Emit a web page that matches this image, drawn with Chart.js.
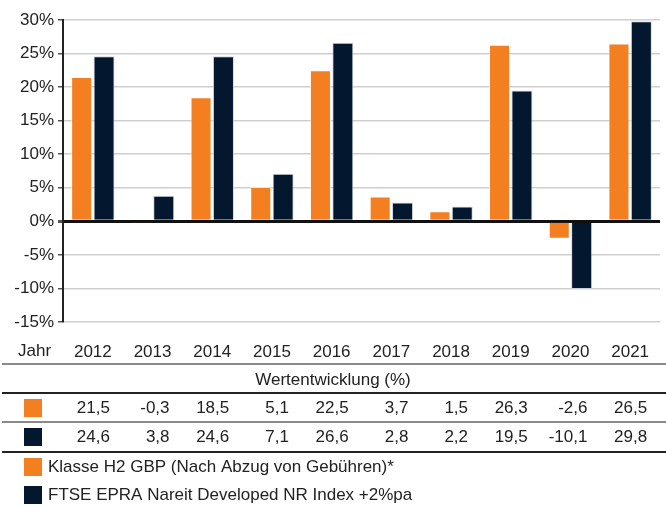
<!DOCTYPE html>
<html>
<head>
<meta charset="utf-8">
<script src="https://cdn.jsdelivr.net/npm/chart.js@4"></script>
<style>
  html, body { margin: 0; padding: 0; background: #fff; }
  #wrap { width: 666px; height: 506px; }
</style>
</head>
<body>
<div id="wrap"><canvas id="perfChart" width="666" height="506"></canvas></div>
<script>
// Wertentwicklung pro Jahr (%)
const years = ["2012", "2013", "2014", "2015", "2016", "2017", "2018", "2019", "2020", "2021"];
const klasseH2 = [21.5, -0.3, 18.5, 5.1, 22.5, 3.7, 1.5, 26.3, -2.6, 26.5];
const ftseIndex = [24.6, 3.8, 24.6, 7.1, 26.6, 2.8, 2.2, 19.5, -10.1, 29.8];
const seriesNames = ["Klasse H2 GBP (Nach Abzug von Gebühren)*", "FTSE EPRA Nareit Developed NR Index +2%pa"];
const yMin = -15, yMax = 30, yStep = 5;

const ORANGE = "#f47f20";
const NAVY = "#03172f";
const TEXT = "#222";
const FONT = "'Liberation Sans', Arial, Helvetica, sans-serif";

const fmt = v => v.toFixed(1).replace(".", ",");

// table under the chart, columns follow the x scale
const tablePlugin = {
  id: "perfTable",
  afterDraw(chart) {
    const ctx = chart.ctx;
    const x = chart.scales.x;
    const W = chart.width;
    ctx.save();
    ctx.font = "17px " + FONT;
    ctx.fillStyle = TEXT;
    ctx.textBaseline = "middle";

    // "Jahr" label next to the years
    ctx.textAlign = "left";
    ctx.fillText("Jahr", 18, 351);

    function hline(y, color, w) {
      ctx.strokeStyle = color;
      ctx.lineWidth = w;
      ctx.beginPath();
      ctx.moveTo(2, y);
      ctx.lineTo(W, y);
      ctx.stroke();
    }
    hline(364, "#8a8a8a", 2);
    ctx.textAlign = "center";
    ctx.fillText("Wertentwicklung (%)", W / 2, 380);
    hline(393, "#222", 2);
    hline(422, "#8a8a8a", 2);
    hline(452, "#222", 2);

    const rows = [
      { y: 408, color: ORANGE, data: klasseH2 },
      { y: 437, color: NAVY, data: ftseIndex },
    ];
    rows.forEach(r => {
      ctx.fillStyle = r.color;
      ctx.fillRect(24, r.y - 9, 18, 18);
      ctx.fillStyle = TEXT;
      ctx.textAlign = "right";
      r.data.forEach((v, i) => {
        ctx.fillText(fmt(v), x.getPixelForValue(i) + 17, r.y);
      });
    });

    // legend
    const leg = [
      { y: 467, color: ORANGE, label: seriesNames[0] },
      { y: 495, color: NAVY, label: seriesNames[1] },
    ];
    leg.forEach(l => {
      ctx.fillStyle = l.color;
      ctx.fillRect(24, l.y - 9, 18, 18);
      ctx.fillStyle = TEXT;
      ctx.textAlign = "left";
      ctx.fillText(l.label, 48, l.y);
    });
    ctx.restore();
  },
};

new Chart(document.getElementById("perfChart"), {
  type: "bar",
  data: {
    labels: years,
    datasets: [
      { label: seriesNames[0], data: klasseH2, backgroundColor: ORANGE, borderColor: "rgba(255,255,255,0.5)", borderWidth: 1 },
      { label: seriesNames[1], data: ftseIndex, backgroundColor: NAVY, borderColor: "rgba(200,205,215,0.8)", borderWidth: 1 },
    ],
  },
  options: {
    responsive: false,
    animation: false,
    categoryPercentage: 0.75,
    barPercentage: 0.94,
    layout: { padding: { top: 20, right: 6, left: 0, bottom: 0 } },
    plugins: { legend: { display: false }, tooltip: { enabled: false } },
    scales: {
      x: {
        grid: { display: false },
        border: { display: false },
        ticks: { color: TEXT, font: { family: FONT, size: 17 }, padding: 12, maxRotation: 0 },
        afterFit: s => { s.height = 184; },
      },
      y: {
        min: yMin,
        max: yMax,
        ticks: {
          stepSize: yStep,
          color: TEXT,
          font: { family: FONT, size: 17 },
          padding: 4,
          callback: v => v + "%",
        },
        grid: {
          color: c => (c.tick && c.tick.value === 0 ? "#111" : "#cfcfcf"),
          lineWidth: c => (c.tick && c.tick.value === 0 ? 3 : 1.5),
          tickColor: "#555",
          tickLength: 5,
        },
        border: { display: true, color: "#222", width: 2 },
        afterFit: s => { s.width = 63; },
      },
    },
  },
  plugins: [tablePlugin],
});
</script>
</body>
</html>
